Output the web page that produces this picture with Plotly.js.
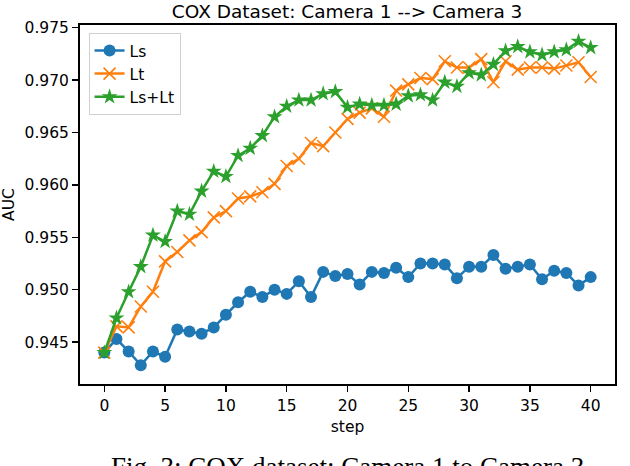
<!DOCTYPE html>
<html>
<head>
<meta charset="utf-8">
<script src="https://cdn.plot.ly/plotly-3.0.1.min.js"></script>
<style>
  html, body { margin: 0; padding: 0; background: #fff; }
  #chart { width: 630px; height: 466px; }
</style>
</head>
<body>
<div id="chart"></div>
<script>
const steps = Array.from({ length: 41 }, (_, i) => i)

const ls = [
  0.9440, 0.9453, 0.9441, 0.9428, 0.9441, 0.9436, 0.9462, 0.9460, 0.9458, 0.9464,
  0.9476, 0.9488, 0.9498, 0.9493, 0.9500, 0.9496, 0.9508, 0.9493, 0.9517, 0.9513,
  0.9515, 0.9505, 0.9517, 0.9516, 0.9521, 0.9512, 0.9525, 0.9525, 0.9524, 0.9511,
  0.9522, 0.9522, 0.9533, 0.9520, 0.9522, 0.9524, 0.9510, 0.9518, 0.9516, 0.9504,
  0.9512
]

const lt = [
  0.9440, 0.9465, 0.9464, 0.9484, 0.9498, 0.9527, 0.9536, 0.9547, 0.9555, 0.9569,
  0.9575, 0.9587, 0.9589, 0.9593, 0.9601, 0.9618, 0.9625, 0.9640, 0.9637, 0.9650,
  0.9663, 0.9669, 0.9673, 0.9665, 0.9690, 0.9696, 0.9702, 0.9701, 0.9718, 0.9712,
  0.9712, 0.9720, 0.9698, 0.9718, 0.9710, 0.9712, 0.9712, 0.9711, 0.9714, 0.9717,
  0.9703
]

const lslt = [
  0.9440, 0.9473, 0.9498, 0.9522, 0.9552, 0.9546, 0.9575, 0.9572, 0.9594, 0.9613,
  0.9608, 0.9628, 0.9635, 0.9647, 0.9665, 0.9675, 0.9681, 0.9681, 0.9687, 0.9689,
  0.9674, 0.9677, 0.9676, 0.9676, 0.9677, 0.9685, 0.9686, 0.9681, 0.9698, 0.9694,
  0.9707, 0.9705, 0.9715, 0.9728, 0.9732, 0.9727, 0.9724, 0.9727, 0.9729, 0.9737,
  0.9731
]

const xticks = [0, 5, 10, 15, 20, 25, 30, 35, 40]
const yticks = [0.945, 0.950, 0.955, 0.960, 0.965, 0.970, 0.975]

const font = { family: 'DejaVu Sans, sans-serif', size: 15.5, color: '#000' }

const ls_trace = {
  x: steps, y: ls, name: 'Ls',
  type: 'scatter', mode: 'lines+markers',
  line: { color: '#1f77b4', width: 2.5 },
  marker: { symbol: 'circle', size: 12, color: '#1f77b4' }
}

const lt_trace = {
  x: steps, y: lt, name: 'Lt',
  type: 'scatter', mode: 'lines+markers',
  line: { color: '#ff7f0e', width: 2.5 },
  marker: { symbol: 'x-thin', size: 12, color: '#ff7f0e', line: { color: '#ff7f0e', width: 1.6 } }
}

const lslt_trace = {
  x: steps, y: lslt, name: 'Ls+Lt',
  type: 'scatter', mode: 'lines+markers',
  line: { color: '#2ca02c', width: 2.5 },
  marker: { symbol: 'star', size: 12, color: '#2ca02c' }
}

const axis = {
  showline: true, linecolor: '#000', linewidth: 2, mirror: true,
  ticks: 'outside', ticklen: 6, tickwidth: 1.5, tickcolor: '#000',
  showgrid: false, zeroline: false, tickfont: font
}

const layout = {
  width: 630, height: 466,
  margin: { l: 80, r: 15, t: 25, b: 82 },
  paper_bgcolor: '#fff', plot_bgcolor: '#fff',
  font: font,
  title: {
    text: 'COX Dataset: Camera 1 --> Camera 3',
    font: { family: 'DejaVu Sans, sans-serif', size: 18.5, color: '#000' },
    x: 0.551, xanchor: 'center', y: 0.975, yanchor: 'middle'
  },
  showlegend: true,
  legend: {
    x: 0.016, y: 0.978, xanchor: 'left', yanchor: 'top',
    bgcolor: '#fff', bordercolor: '#d0d0d0', borderwidth: 1,
    font: font, tracegroupgap: 0
  },
  xaxis: Object.assign({}, axis, {
    range: [-2, 42], tickvals: xticks,
    title: { text: 'step', font: font, standoff: 8 }
  }),
  yaxis: Object.assign({}, axis, {
    range: [0.9410, 0.97526], tickvals: yticks, tickformat: '.3f',
    title: { text: 'AUC', font: font, standoff: 10 }
  }),
  annotations: [{
    text: 'Fig. 3: COX dataset: Camera 1 to Camera 3',
    xref: 'paper', yref: 'paper', x: 0.5, y: -0.185,
    xanchor: 'center', yanchor: 'top', showarrow: false,
    font: { family: 'Liberation Serif, Times New Roman, serif', size: 27, color: '#000' }
  }]
}

Plotly.newPlot('chart', [ls_trace, lt_trace, lslt_trace], layout, { displayModeBar: false, staticPlot: true })
</script>
</body>
</html>
